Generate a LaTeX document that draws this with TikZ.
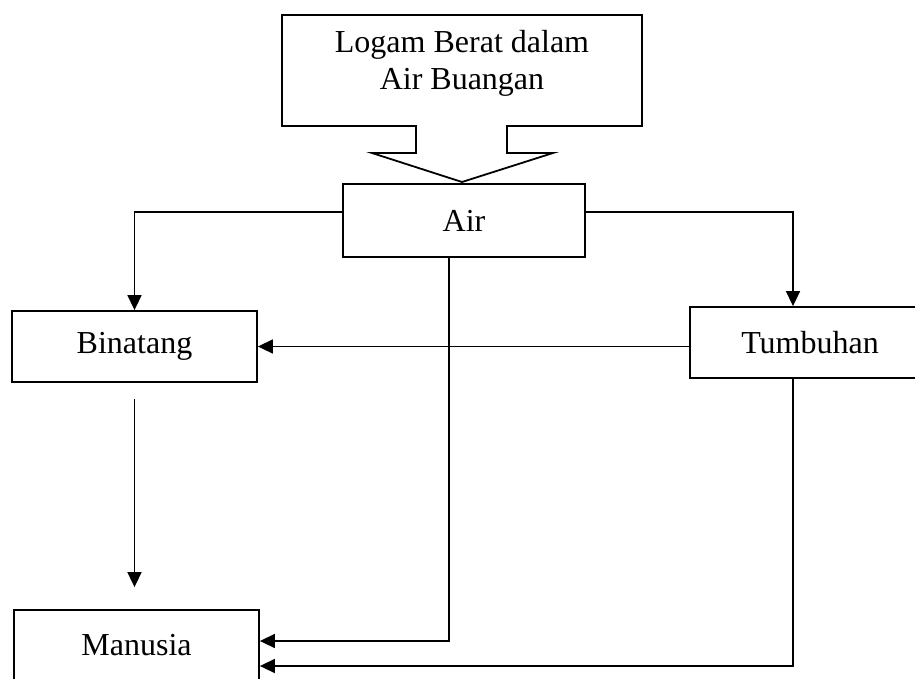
\documentclass[tikz,border=0pt]{standalone}
\usepackage{fontspec}
\setmainfont{Liberation Serif}
\usetikzlibrary{arrows.meta}
\begin{document}
\begin{tikzpicture}[x=1pt,y=-1pt,
  every node/.style={font=\fontsize{32}{37}\selectfont},
  boxnode/.style={draw,line width=1.8pt,inner sep=0pt,anchor=center},
  conn/.style={line width=1.6pt},
  arr/.style={conn,-{Triangle[length=15pt,width=14pt]}}]
\useasboundingbox (0,0) rectangle (915,678);
\clip (0,0) rectangle (915,678);
% callout shape
\draw[line width=1.8pt] (282,15) -- (642,15) -- (642,126) -- (507,126) -- (507,153) -- (553,153)
  -- (462,182) -- (372,153) -- (416,153) -- (416,126) -- (282,126) -- cycle;
\node[align=center] (logam) at (462,63) {Logam Berat dalam\\Air Buangan};
% boxes
\node[boxnode,minimum width=242pt,minimum height=73pt] (air) at (464,220.5) {Air};
\node[boxnode,minimum width=245pt,minimum height=71pt] (bin) at (134.5,346.5) {Binatang};
\node[boxnode,minimum width=240pt,minimum height=71pt] (tum) at (810,342.5) {Tumbuhan};
\node[boxnode,minimum width=245pt,minimum height=70pt] (man) at (136.5,645) {Manusia};
% connectors
\draw[arr] ([yshift=8.5pt]air.west) -| (bin.north);
\draw[arr] ([yshift=8.5pt]air.east) -| ([xshift=-17pt]tum.north);
\draw[arr] (tum.west |- bin.east) -- (bin.east);
\draw[arr,shorten <=16pt,shorten >=22pt] (bin.south) -- (bin.south |- man.north);
\draw[arr] ([xshift=-15pt]air.south) |- ([yshift=4pt]man.east);
\draw[arr] ([xshift=-17pt]tum.south) |- ([yshift=-21pt]man.east);
\end{tikzpicture}
\end{document}
